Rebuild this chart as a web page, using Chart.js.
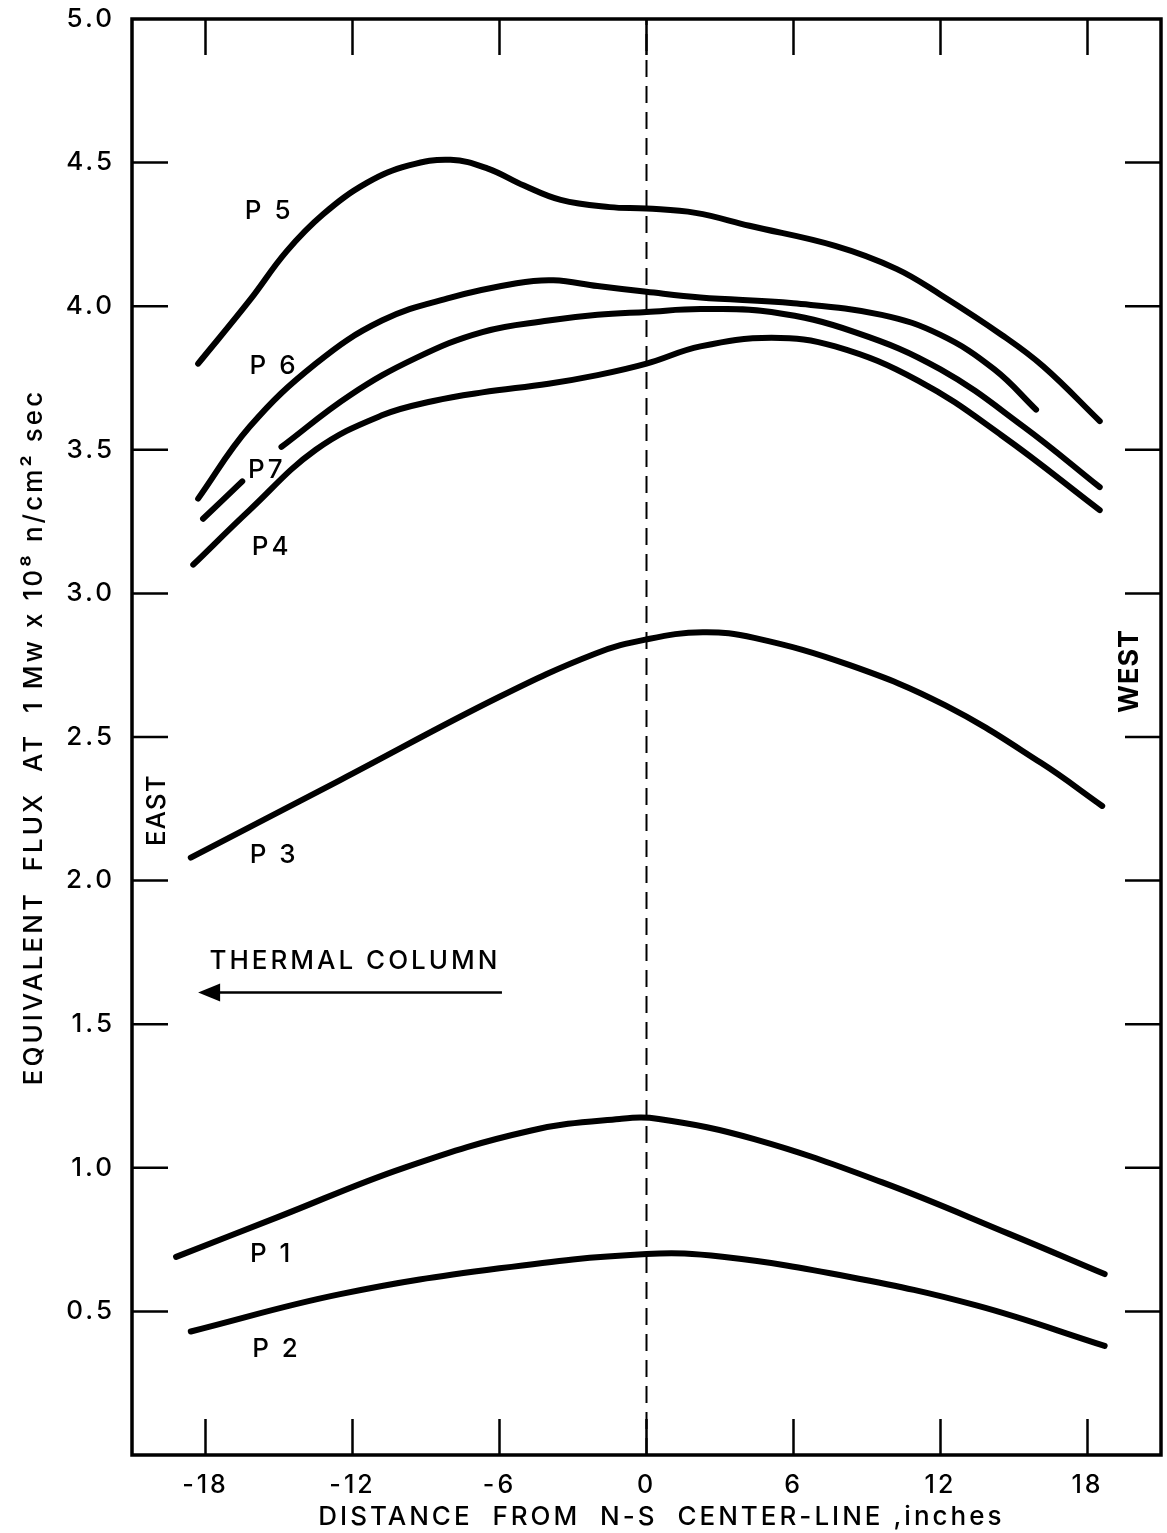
<!DOCTYPE html>
<html>
<head>
<meta charset="utf-8">
<title>Equivalent flux across the core</title>
<script src="https://cdn.jsdelivr.net/npm/chart.js@4.4.1/dist/chart.umd.min.js"></script>
<style>
  html, body { margin: 0; padding: 0; background: #fff; }
  canvas { display: block; }
</style>
</head>
<body>
<canvas id="fluxChart" width="1167" height="1533"></canvas>
<script>
// --- Data (distance in inches, flux x 10^8) ---
const xTicks = [-18, -12, -6, 0, 6, 12, 18];
const yTicks = [0.5, 1.0, 1.5, 2.0, 2.5, 3.0, 3.5, 4.0, 4.5, 5.0];

const p5 = [[-18.3, 3.80], [-16.2, 4.02], [-14.7, 4.19], [-13.2, 4.32], [-11.4, 4.43], [-9.7, 4.49],
            [-8.0, 4.51], [-6.5, 4.48], [-5.0, 4.42], [-3.5, 4.37], [-1.5, 4.345], [0, 4.34],
            [2.0, 4.325], [4.2, 4.28], [7.7, 4.21], [10.2, 4.13], [12.0, 4.04], [14.5, 3.90],
            [16.2, 3.79], [18.5, 3.60]];
const p6 = [[-18.3, 3.33], [-16.2, 3.58], [-13.5, 3.80], [-10.8, 3.95], [-8.0, 4.03], [-5.3, 4.08],
            [-3.8, 4.09], [-2.0, 4.07], [0, 4.05], [2.2, 4.03], [6.0, 4.01], [9.6, 3.97],
            [12.0, 3.90], [14.2, 3.78], [15.9, 3.64]];
// P7 is broken where its label sits (null = gap)
const p7 = [[-18.1, 3.26], [-16.5, 3.39], [-15.7, null], [-14.9, 3.51], [-12.1, 3.69], [-9.4, 3.82],
            [-6.7, 3.91], [-4.0, 3.95], [-2.0, 3.97], [0, 3.98], [2.2, 3.99], [5.1, 3.98],
            [8.5, 3.91], [12.0, 3.78], [15.4, 3.58], [18.5, 3.37]];
const p4 = [[-18.5, 3.10], [-16.2, 3.29], [-13.5, 3.50], [-10.8, 3.62], [-8.7, 3.67], [-6.7, 3.70],
            [-4.0, 3.73], [-2.0, 3.76], [0, 3.80], [2.2, 3.86], [5.1, 3.89], [7.7, 3.86],
            [11.1, 3.74], [14.5, 3.55], [18.5, 3.29]];
const p3 = [[-18.6, 2.08], [-12.5, 2.35], [-6.0, 2.64], [-2.1, 2.79], [0, 2.84], [2.3, 2.865],
            [4.4, 2.845], [8.3, 2.75], [12.2, 2.61], [16.1, 2.41], [18.6, 2.26]];
const p1 = [[-19.2, 0.69], [-15.0, 0.83], [-9.9, 1.00], [-4.7, 1.13], [-1.1, 1.17], [0.5, 1.17],
            [4.4, 1.10], [9.6, 0.95], [14.8, 0.77], [18.7, 0.63]];
const p2 = [[-18.6, 0.43], [-12.5, 0.56], [-6.0, 0.65], [0, 0.70], [3.1, 0.69], [8.3, 0.62],
            [13.5, 0.52], [18.7, 0.38]];
const centerLine = [[0, 0], [0, 5]];

// Curve names, placed in data units next to each curve
const curveLabels = [
    { text: 'P 5', x: -15.4, y: 4.33 },
    { text: 'P 6', x: -15.2, y: 3.79 },
    { text: 'P7',  x: -15.5, y: 3.43 },
    { text: 'P4',  x: -15.3, y: 3.16 },
    { text: 'P 3', x: -15.2, y: 2.09 },
    { text: 'P 1', x: -15.3, y: 0.70 },
    { text: 'P 2', x: -15.1, y: 0.37 }
];

const FONT = 'Inter, "DejaVu Sans", sans-serif';
const TICK_LEN = 36;

const toPoints = arr => arr.map(([x, y]) => ({ x, y }));

function curve(points) {
    return {
        data: toPoints(points),
        borderColor: '#000',
        borderWidth: 6,
        borderCapStyle: 'round',
        borderJoinStyle: 'round',
        tension: 0.4,
        pointRadius: 0,
        spanGaps: false
    };
}

// --- Plugins ---
// frame with inward ticks on all four sides
const framePlugin = {
    id: 'frame',
    afterDraw(chart) {
        const { ctx, chartArea: a, scales: { x, y } } = chart;
        ctx.save();
        ctx.strokeStyle = '#000';
        ctx.lineWidth = 3.5;
        ctx.strokeRect(a.left, a.top, a.right - a.left, a.bottom - a.top);

        ctx.lineWidth = 2.5;
        ctx.beginPath();
        xTicks.forEach(v => {
            const px = x.getPixelForValue(v);
            ctx.moveTo(px, a.top);
            ctx.lineTo(px, a.top + TICK_LEN);
            ctx.moveTo(px, a.bottom);
            ctx.lineTo(px, a.bottom - TICK_LEN);
        });
        yTicks.filter(v => v < 5).forEach(v => {
            const py = y.getPixelForValue(v);
            ctx.moveTo(a.left, py);
            ctx.lineTo(a.left + TICK_LEN, py);
            ctx.moveTo(a.right, py);
            ctx.lineTo(a.right - TICK_LEN, py);
        });
        ctx.stroke();
        ctx.restore();
    }
};

// curve names, EAST / WEST and the thermal column arrow
const notesPlugin = {
    id: 'notes',
    afterDraw(chart) {
        const { ctx, scales: { x, y } } = chart;
        ctx.save();
        ctx.fillStyle = '#000';
        ctx.textAlign = 'center';
        ctx.textBaseline = 'middle';
        ctx.letterSpacing = '3px';

        ctx.font = '500 26px ' + FONT;
        curveLabels.forEach(l => {
            ctx.fillText(l.text, x.getPixelForValue(l.x), y.getPixelForValue(l.y));
        });

        // side names, reading upward
        ctx.letterSpacing = '1px';
        const rotated = (text, vx, vy, font) => {
            ctx.save();
            ctx.translate(x.getPixelForValue(vx), y.getPixelForValue(vy));
            ctx.rotate(-Math.PI / 2);
            ctx.font = font;
            ctx.fillText(text, 0, 0);
            ctx.restore();
        };
        rotated('EAST', -19.96, 2.245, '500 26px ' + FONT);
        rotated('WEST', 19.73, 2.73, 'bold 27px ' + FONT);

        ctx.font = '500 26px ' + FONT;
        ctx.letterSpacing = '3px';
        ctx.fillText('THERMAL COLUMN', x.getPixelForValue(-11.9), y.getPixelForValue(1.72));

        // arrow pointing toward the thermal column
        const ax0 = x.getPixelForValue(-5.9);
        const ax1 = x.getPixelForValue(-18.3);
        const ay = y.getPixelForValue(1.61);
        ctx.strokeStyle = '#000';
        ctx.lineWidth = 2.5;
        ctx.beginPath();
        ctx.moveTo(ax0, ay);
        ctx.lineTo(ax1 + 15, ay);
        ctx.stroke();
        ctx.beginPath();
        ctx.moveTo(ax1, ay);
        ctx.lineTo(ax1 + 22, ay - 9);
        ctx.lineTo(ax1 + 22, ay + 9);
        ctx.closePath();
        ctx.fill();
        ctx.restore();
    }
};

// wider letter spacing for the axis lettering
const spacingPlugin = {
    id: 'spacing',
    beforeDraw(chart) { chart.ctx.letterSpacing = '3px'; },
    afterDraw(chart) { chart.ctx.letterSpacing = '0px'; }
};

// --- Chart ---
const ctx = document.getElementById('fluxChart').getContext('2d');
const chart = new Chart(ctx, {
    type: 'line',
    data: {
        datasets: [
            curve(p5), curve(p6), curve(p7), curve(p4), curve(p3), curve(p1), curve(p2),
            {
                data: toPoints(centerLine),
                borderColor: '#000',
                borderWidth: 2,
                borderDash: [17, 9],
                tension: 0,
                pointRadius: 0
            }
        ]
    },
    options: {
        responsive: false,
        animation: false,
        events: [],
        layout: { padding: { top: 19, right: 6, left: 0, bottom: 0 } },
        plugins: {
            legend: { display: false },
            tooltip: { enabled: false }
        },
        scales: {
            x: {
                type: 'linear',
                position: 'bottom',
                min: -21,
                max: 21,
                afterBuildTicks: s => { s.ticks = xTicks.map(v => ({ value: v })); },
                afterFit: s => { s.height = 78; },
                grid: { display: false, drawTicks: false },
                border: { display: false },
                ticks: {
                    color: '#000',
                    padding: 15,
                    maxRotation: 0,
                    font: { family: FONT, size: 25, weight: '500' },
                    callback: v => String(v)
                },
                title: {
                    display: true,
                    // leading spaces nudge the centred title a little to the right
                    text: '   DISTANCE  FROM  N-S  CENTER-LINE ,inches',
                    color: '#000',
                    font: { family: FONT, size: 26, weight: '500' },
                    padding: { top: 0, bottom: 0 }
                }
            },
            y: {
                type: 'linear',
                position: 'left',
                min: 0,
                max: 5,
                afterBuildTicks: s => { s.ticks = yTicks.map(v => ({ value: v })); },
                afterFit: s => { s.width = 132; },
                grid: { display: false, drawTicks: false },
                border: { display: false },
                ticks: {
                    color: '#000',
                    padding: 17,
                    // tiny line height keeps the top label from pushing the plot down
                    font: { family: FONT, size: 26, weight: '500', lineHeight: 0.1 },
                    callback: v => v.toFixed(1)
                },
                title: {
                    display: true,
                    text: 'EQUIVALENT  FLUX  AT  1 Mw x 10⁸ n/cm² sec',
                    color: '#000',
                    font: { family: FONT, size: 26, weight: '500' },
                    padding: { top: 19, bottom: 0 }
                }
            }
        }
    },
    plugins: [spacingPlugin, framePlugin, notesPlugin]
});
</script>
</body>
</html>
